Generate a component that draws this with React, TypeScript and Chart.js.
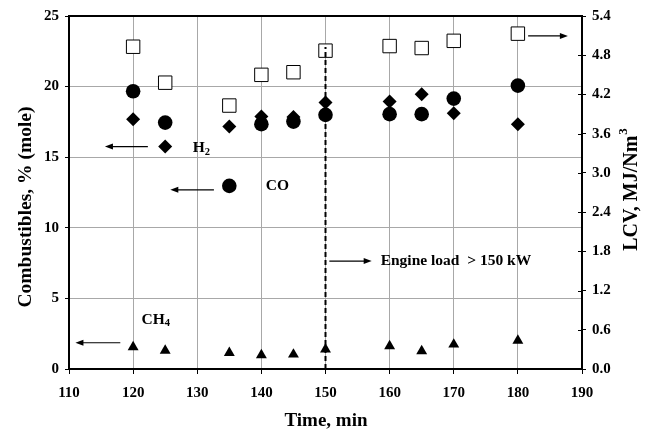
import React, { useEffect, useRef } from "react";
import { Chart, registerables } from "chart.js";

Chart.register(...registerables);

// ---- data ----
const times = [120, 125, 135, 140, 145, 150, 160, 165, 170, 180];
const h2 = [17.69, null, 17.17, 17.88, 17.85, 18.87, 18.94, 19.46, 18.12, 17.34];
const co = [19.67, 17.45, null, 17.34, 17.52, 18.0, 18.05, 18.05, 19.15, 20.07];
const ch4 = [1.55, 1.31, 1.15, 0.98, 1.03, 1.39, 1.62, 1.27, 1.74, 2.02];
const lcv = [4.93, 4.38, 4.03, 4.5, 4.54, 4.87, 4.94, 4.91, 5.02, 5.13];

const xTicks = [110, 120, 130, 140, 150, 160, 170, 180, 190];
const leftTicks = [0, 5, 10, 15, 20, 25];
const rightTicks = [0, 0.6, 1.2, 1.8, 2.4, 3.0, 3.6, 4.2, 4.8, 5.4];

const loadTime = 150;
const loadTop = 22.8;

// annotation arrows (data units on x / left y): [x1, x2, y]
const arrows = [
  [122.3, 115.6, 15.75],
  [132.6, 125.8, 12.69],
  [118, 111, 1.86],
  [181.6, 187.8, 23.59],
  [150.6, 157.2, 7.64],
];

const FONT = "'Liberation Serif', 'Times New Roman', serif";

function toPts(vals: (number | null)[]) {
  return times.map((t, i) => ({ x: t, y: vals[i] as any }));
}

export default function App() {
  const ref = useRef<HTMLCanvasElement>(null);

  useEffect(() => {
    const canvas = ref.current!;
    const gridGray = "#a8a8a8";

    const drawArrow = (ctx: CanvasRenderingContext2D, x1: number, x2: number, y: number) => {
      ctx.save();
      ctx.strokeStyle = "#000";
      ctx.fillStyle = "#000";
      ctx.lineWidth = 1.2;
      const dir = x2 > x1 ? 1 : -1;
      ctx.beginPath();
      ctx.moveTo(x1, y);
      ctx.lineTo(x2 - dir * 6, y);
      ctx.stroke();
      ctx.beginPath();
      ctx.moveTo(x2, y);
      ctx.lineTo(x2 - dir * 8, y - 3);
      ctx.lineTo(x2 - dir * 8, y + 3);
      ctx.closePath();
      ctx.fill();
      ctx.restore();
    };

    const drawSub = (
      ctx: CanvasRenderingContext2D,
      main: string,
      sub: string,
      x: number,
      y: number
    ) => {
      ctx.save();
      ctx.fillStyle = "#000";
      ctx.textBaseline = "middle";
      ctx.textAlign = "left";
      ctx.font = `bold 15.5px ${FONT}`;
      ctx.fillText(main, x, y);
      const w = ctx.measureText(main).width;
      ctx.font = `bold 10.5px ${FONT}`;
      ctx.fillText(sub, x + w, y + 4);
      ctx.restore();
    };

    const annotPlugin = {
      id: "annot",
      afterDatasetsDraw(chart: any) {
        const ctx = chart.ctx as CanvasRenderingContext2D;
        const xs = chart.scales.x;
        const ys = chart.scales.y;
        const ca = chart.chartArea;

        // dashed vertical load line
        ctx.save();
        ctx.strokeStyle = "#000";
        ctx.lineWidth = 2;
        ctx.setLineDash([5, 3]);
        ctx.beginPath();
        ctx.moveTo(xs.getPixelForValue(loadTime), ys.getPixelForValue(0));
        ctx.lineTo(xs.getPixelForValue(loadTime), ys.getPixelForValue(loadTop));
        ctx.stroke();
        ctx.restore();

        // arrows
        arrows.forEach(([a, b, y]) =>
          drawArrow(ctx, xs.getPixelForValue(a), xs.getPixelForValue(b), ys.getPixelForValue(y))
        );

        // label markers
        ctx.save();
        ctx.fillStyle = "#000";
        const dx = xs.getPixelForValue(125);
        const dy = ys.getPixelForValue(15.75);
        ctx.beginPath();
        ctx.moveTo(dx, dy - 7);
        ctx.lineTo(dx + 7, dy);
        ctx.lineTo(dx, dy + 7);
        ctx.lineTo(dx - 7, dy);
        ctx.closePath();
        ctx.fill();
        ctx.beginPath();
        ctx.arc(xs.getPixelForValue(135), ys.getPixelForValue(12.97), 7.3, 0, Math.PI * 2);
        ctx.fill();
        ctx.restore();

        // label texts
        drawSub(ctx, "H", "2", xs.getPixelForValue(129.3), ys.getPixelForValue(15.65));
        drawSub(ctx, "CO", "", xs.getPixelForValue(140.7), ys.getPixelForValue(12.97));
        drawSub(ctx, "CH", "4", xs.getPixelForValue(121.3), ys.getPixelForValue(3.49));
        drawSub(
          ctx,
          "Engine load  > 150 kW",
          "",
          xs.getPixelForValue(158.6),
          ys.getPixelForValue(7.64)
        );

        // frame top line
        ctx.save();
        ctx.strokeStyle = "#000";
        ctx.lineWidth = 2;
        ctx.beginPath();
        ctx.moveTo(ca.left, ca.top);
        ctx.lineTo(ca.right, ca.top);
        ctx.stroke();
        // inner ticks on right axis
        const y1 = chart.scales.y1;
        ctx.lineWidth = 1;
        rightTicks.forEach((v) => {
          const py = Math.round(y1.getPixelForValue(v)) + 0.5;
          ctx.beginPath();
          ctx.moveTo(ca.right - 4, py);
          ctx.lineTo(ca.right, py);
          ctx.stroke();
        });
        ctx.restore();
      },
      afterDraw(chart: any) {
        const ctx = chart.ctx as CanvasRenderingContext2D;
        ctx.save();
        ctx.fillStyle = "#000";
        ctx.textAlign = "center";
        ctx.textBaseline = "middle";
        ctx.font = `bold 19px ${FONT}`;
        ctx.fillText("Time, min", 326, 421);

        ctx.save();
        ctx.translate(26, 207);
        ctx.rotate(-Math.PI / 2);
        ctx.font = `bold 19.5px ${FONT}`;
        ctx.fillText("Combustibles, % (mole)", 0, 0);
        ctx.restore();

        ctx.save();
        ctx.translate(632, 190);
        ctx.rotate(-Math.PI / 2);
        ctx.font = `bold 20px ${FONT}`;
        const main = "LCV, MJ/Nm";
        const wMain = ctx.measureText(main).width;
        ctx.font = `bold 13px ${FONT}`;
        const wSup = ctx.measureText("3").width;
        const start = -(wMain + wSup) / 2;
        ctx.textAlign = "left";
        ctx.font = `bold 20px ${FONT}`;
        ctx.fillText(main, start, 0);
        ctx.font = `bold 13px ${FONT}`;
        ctx.fillText("3", start + wMain + 1, -8);
        ctx.restore();
        ctx.restore();
      },
    };

    const tickFont = { family: FONT, size: 15, weight: "bold" as const };

    const chart = new Chart(canvas, {
      type: "scatter",
      data: {
        datasets: [
          {
            label: "LCV",
            data: toPts(lcv),
            yAxisID: "y1",
            pointStyle: "rect",
            pointRadius: 9.5,
            backgroundColor: "#fff",
            borderColor: "#000",
            borderWidth: 1,
          },
          {
            label: "H2",
            data: toPts(h2),
            yAxisID: "y",
            pointStyle: "rectRot",
            pointRadius: 7,
            backgroundColor: "#000",
            borderColor: "#000",
            borderWidth: 0,
          },
          {
            label: "CO",
            data: toPts(co),
            yAxisID: "y",
            pointStyle: "circle",
            pointRadius: 7.3,
            backgroundColor: "#000",
            borderColor: "#000",
            borderWidth: 0,
          },
          {
            label: "CH4",
            data: toPts(ch4),
            yAxisID: "y",
            pointStyle: "triangle",
            pointRadius: 6.3,
            backgroundColor: "#000",
            borderColor: "#000",
            borderWidth: 0,
          },
        ],
      } as any,
      options: {
        responsive: false,
        animation: false,
        layout: { padding: { top: 16, left: 0, right: 0, bottom: 0 } },
        plugins: {
          legend: { display: false },
          tooltip: { enabled: false },
        },
        scales: {
          x: {
            type: "linear",
            min: 110,
            max: 190,
            afterBuildTicks: (s: any) => {
              s.ticks = xTicks.map((v) => ({ value: v }));
            },
            afterFit: (s: any) => {
              s.height = 63;
            },
            ticks: {
              font: tickFont,
              color: "#000",
              padding: 10,
              maxRotation: 0,
              callback: (v: any) => String(v),
            },
            grid: {
              color: (c: any) =>
                c.tick && (c.tick.value === 110 || c.tick.value === 190) ? "rgba(0,0,0,0)" : gridGray,
              tickColor: "#000",
              tickLength: 5,
              lineWidth: 1,
            },
            border: { color: "#000", width: 2 },
          },
          y: {
            type: "linear",
            position: "left",
            min: 0,
            max: 25,
            afterBuildTicks: (s: any) => {
              s.ticks = leftTicks.map((v) => ({ value: v }));
            },
            afterFit: (s: any) => {
              s.width = 69;
            },
            ticks: {
              font: tickFont,
              color: "#000",
              padding: 6,
              callback: (v: any) => String(v),
            },
            grid: {
              color: (c: any) =>
                c.tick && (c.tick.value === 0 || c.tick.value === 25) ? "rgba(0,0,0,0)" : gridGray,
              tickColor: "#000",
              tickLength: 4,
              lineWidth: 1,
            },
            border: { color: "#000", width: 2 },
          },
          y1: {
            type: "linear",
            position: "right",
            min: 0,
            max: 5.4,
            afterBuildTicks: (s: any) => {
              s.ticks = rightTicks.map((v) => ({ value: v }));
            },
            afterFit: (s: any) => {
              s.width = 70;
            },
            ticks: {
              font: tickFont,
              color: "#000",
              padding: 6,
              callback: (v: any) => Number(v).toFixed(1),
            },
            grid: {
              drawOnChartArea: false,
              color: "#000",
              tickColor: "#000",
              tickLength: 4,
              lineWidth: 1,
            },
            border: { color: "#000", width: 2 },
          },
        },
      } as any,
      plugins: [annotPlugin],
    });

    return () => chart.destroy();
  }, []);

  return (
    <div style={{ position: "absolute", left: 0, top: 0, width: 652, height: 432 }}>
      <canvas ref={ref} width={652} height={432} style={{ display: "block" }} />
    </div>
  );
}
